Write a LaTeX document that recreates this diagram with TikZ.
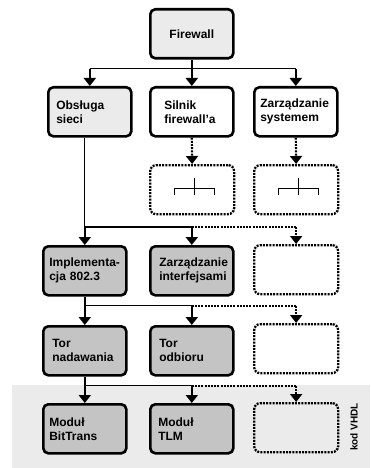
\documentclass[tikz,border=0pt]{standalone}
\usepackage{fontspec}
\setmainfont{Liberation Sans}
\usetikzlibrary{arrows.meta}

\definecolor{lightfill}{gray}{0.92}
\definecolor{darkfill}{gray}{0.77}

\begin{document}
\begin{tikzpicture}[x=1pt, y=-1pt,
            box/.style={
                draw,
                line width=2.6pt,
                rounded corners=5pt,
                fill=white,
                minimum width=83pt,
                minimum height=49pt,
                text width=71pt,
                inner xsep=6pt,
                font=\bfseries\fontsize{12}{14}\selectfont,
                align=left,
                anchor=north west
            },
            dotbox/.style={
                draw,
                line width=2.3pt,
                dash pattern=on 2pt off 1.2pt,
                rounded corners=6pt,
                minimum width=84pt,
                minimum height=49pt,
                anchor=north west
            },
            conn/.style={
                line width=1.2pt
            },
            dconn/.style={
                line width=2.2pt,
                dash pattern=on 2pt off 1.2pt
            },
            arr/.style={
                line width=2.6pt,
                -{Triangle[width=12pt,length=8pt]}
            },
            darr/.style={
                dconn,
                -{Triangle[width=12pt,length=8pt]}
            }
        ]

        \useasboundingbox (0,0) rectangle (370,468);

        % VHDL band (bottom)
        \fill[lightfill] (12,385) rectangle (370,468);
        \node[rotate=90, font=\bfseries\fontsize{10}{12}\selectfont]
            (vhdl) at (354,427) {kod VHDL};

        % Firewall (top)
        \node[box, fill=lightfill, align=center]
            (fw) at (149,8) {Firewall};

        % first level
        \node[box, fill=lightfill, inner xsep=8pt, text width=67pt] (obs) at (47,86) {Obsługa\\sieci};
        \node[box, text width=55pt, inner xsep=14pt] (sil) at (149,86) {Silnik\\firewall’a};
        \node[box] (zarz) at (253,86) {Zarządzanie\\systemem};

        % dotted boxes under Silnik and Zarzadzanie
        \node[dotbox] (dots1) at (149,164) {};
        \node[dotbox] (dots2) at (253,164) {};
        \foreach \b in {dots1,dots2} {
            \draw[line width=0.9pt] ([shift={(-18,5)}]\b.center)
                -- ++(0,-6) -- ++(40,0) -- ++(0,6);
            \draw[line width=0.9pt] ([shift={(2,-12)}]\b.center) -- ++(0,17);
        }

        % second level
        \node[box, fill=darkfill] (impl) at (42,245) {\mbox{Implementa-}\\cja 802.3};
        \node[box, fill=darkfill, inner xsep=9pt, text width=65pt] (zint) at (149,245) {Zarządzanie\\interfejsami};
        \node[dotbox] (dots3) at (253,244) {};

        % third level
        \node[box, fill=darkfill, inner xsep=9pt, text width=65pt] (tnad) at (42,325) {Tor\\nadawania};
        \node[box, fill=darkfill, inner xsep=9pt, text width=65pt] (todb) at (149,325) {Tor\\odbioru};
        \node[dotbox] (dots4) at (253,323) {};

        % fourth level
        \node[box, fill=darkfill] (mbit) at (42,403) {Moduł\\BitTrans};
        \node[box, fill=darkfill, inner xsep=8pt, text width=67pt] (mtlm) at (149,403) {Moduł\\TLM};
        \node[dotbox] (dots5) at (253,402) {};

        % connectors: Firewall
        \path (fw.south) ++(0,9) coordinate (j0);
        \draw[conn, line width=2.6pt] (fw.south) -- (j0);
        \draw[conn] (j0 -| obs.north) -- (j0 -| zarz.north);
        \draw[arr] (j0 -| obs.north) -- (obs.north);
        \draw[arr] (j0) -- (sil.north);
        \draw[arr] (j0 -| zarz.north) -- (zarz.north);
        \draw[darr] (sil.south) -- (dots1.north);
        \draw[darr] (zarz.south) -- (dots2.north);

        % connectors: Obsluga sieci
        \coordinate (j1) at (impl.north |- 0,227);
        \draw[conn] (obs.south -| j1) -- (j1) -- (j1 -| zint.north);
        \draw[dconn] (j1 -| zint.north) -- (j1 -| dots3.north);
        \draw[arr] (j1) -- (impl.north);
        \draw[arr] (j1 -| zint.north) -- (zint.north);
        \draw[darr] (j1 -| dots3.north) -- (dots3.north);

        % connectors: Implementacja 802.3
        \path (impl.south) ++(0,9) coordinate (j2);
        \draw[conn, line width=2pt] (impl.south) -- (j2);
        \draw[conn] (j2) -- (j2 -| todb.north);
        \draw[dconn] (j2 -| todb.north) -- (j2 -| dots4.north);
        \draw[arr] (j2) -- (tnad.north);
        \draw[arr] (j2 -| todb.north) -- (todb.north);
        \draw[darr] (j2 -| dots4.north) -- (dots4.north);

        % connectors: Tor nadawania
        \path (tnad.south) ++(0,9) coordinate (j3);
        \draw[conn, line width=2pt] (tnad.south) -- (j3);
        \draw[conn] (j3) -- (j3 -| mtlm.north);
        \draw[dconn] (j3 -| mtlm.north) -- (j3 -| dots5.north);
        \draw[arr] (j3) -- (mbit.north);
        \draw[arr] (j3 -| mtlm.north) -- (mtlm.north);
        \draw[darr] (j3 -| dots5.north) -- (dots5.north);
\end{tikzpicture}
\end{document}
